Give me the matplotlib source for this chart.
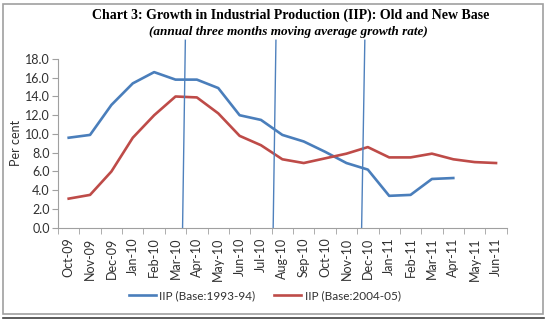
import matplotlib
matplotlib.use("Agg")
import matplotlib.pyplot as plt
from matplotlib.patches import Rectangle
from matplotlib.lines import Line2D

months = ["Oct-09", "Nov-09", "Dec-09", "Jan-10", "Feb-10", "Mar-10", "Apr-10",
          "May-10", "Jun-10", "Jul-10", "Aug-10", "Sep-10", "Oct-10", "Nov-10",
          "Dec-10", "Jan-11", "Feb-11", "Mar-11", "Apr-11", "May-11", "Jun-11"]
old_base = [9.6, 9.9, 13.1, 15.4, 16.6, 15.8, 15.8, 14.9, 12.0, 11.5, 9.9, 9.2,
            8.1, 6.9, 6.2, 3.4, 3.5, 5.2, 5.3]
new_base = [3.1, 3.5, 6.0, 9.6, 12.0, 14.0, 13.9, 12.2, 9.8, 8.8, 7.3, 6.9,
            7.4, 7.9, 8.6, 7.5, 7.5, 7.9, 7.3, 7.0, 6.9]
series_names = ["IIP (Base:1993-94)", "IIP (Base:2004-05)"]
yticks = [0, 2, 4, 6, 8, 10, 12, 14, 16, 18]
# annotation vertical lines (category position at bottom, at top)
vlines = [(5.33, 5.46), (9.57, 9.70), (13.71, 13.86)]

blue = "#4a7ebb"
red = "#be4b48"
vblue = "#4f81bd"

fig = plt.figure(figsize=(5.47, 3.22), dpi=100)
fig.patch.set_facecolor("white")

# outer border
fig.add_artist(Rectangle((3 / 547, 1 - 314 / 322), 540 / 547, 310 / 322,
                         transform=fig.transFigure, fill=False,
                         edgecolor="#a0a0a0", linewidth=1.2))
fig.add_artist(Line2D([3 / 547, 544 / 547], [1 - 318 / 322] * 2,
                      transform=fig.transFigure, color="#404040", linewidth=1.2))

ax = fig.add_axes([58 / 547, 1 - 227.7 / 322, (506.7 - 58) / 547, (227.7 - 59) / 322])
x = list(range(len(months)))
ax.plot(x[:len(old_base)], old_base, color=blue, lw=1.9, label=series_names[0])
ax.plot(x[:len(new_base)], new_base, color=red, lw=1.9, label=series_names[1])

for xb, xt in vlines:
    ax.plot([xb, xt], [0, 20.0], color=vblue, lw=1.0, clip_on=False)

ax.set_xlim(-0.5, len(months) - 0.5)
ax.set_ylim(0, 18)
ax.set_yticks(yticks)
ax.set_yticklabels([f"{v:.1f}" for v in yticks])
ax.set_xticks(x)
ax.set_xticklabels(months, rotation=90)
ax.set_xticks([i - 0.5 for i in range(len(months) + 1)], minor=True)
ax.tick_params(axis="x", which="major", length=0, pad=7, labelsize=9, colors="#303030")
ax.tick_params(axis="x", which="minor", length=4, color="#a0a0a0")
ax.tick_params(axis="y", length=4, color="#a0a0a0", labelsize=9, colors="#303030", pad=2)
ax.tick_params(axis="y", which="both", color="#a0a0a0")
for s in ["top", "right"]:
    ax.spines[s].set_visible(False)
for s in ["left", "bottom"]:
    ax.spines[s].set_color("#a0a0a0")
ax.set_ylabel("Per cent", fontsize=9, color="#303030", labelpad=2)

for lab in ax.get_xticklabels() + ax.get_yticklabels():
    lab.set_family("Lato")
ax.yaxis.label.set_family("Lato")

fig.text(0.531, 1 - 15 / 322, "Chart 3: Growth in Industrial Production (IIP): Old and New Base",
         ha="center", va="center", fontsize=10, fontweight="bold", family="Liberation Serif")
fig.text(0.528, 1 - 32 / 322, "(annual three months moving average growth rate)",
         ha="center", va="center", fontsize=9.5, fontweight="bold", style="italic",
         family="Liberation Serif")

leg = fig.legend(loc="center", bbox_to_anchor=(0.484, 1 - 296 / 322), ncol=2, frameon=False,
                 prop={"family": "Lato", "size": 8.5}, handlelength=2.3, columnspacing=1.6,
                 handletextpad=0.3)
for t in leg.get_texts():
    t.set_color("#303030")

fig.savefig("out.png", dpi=100)
